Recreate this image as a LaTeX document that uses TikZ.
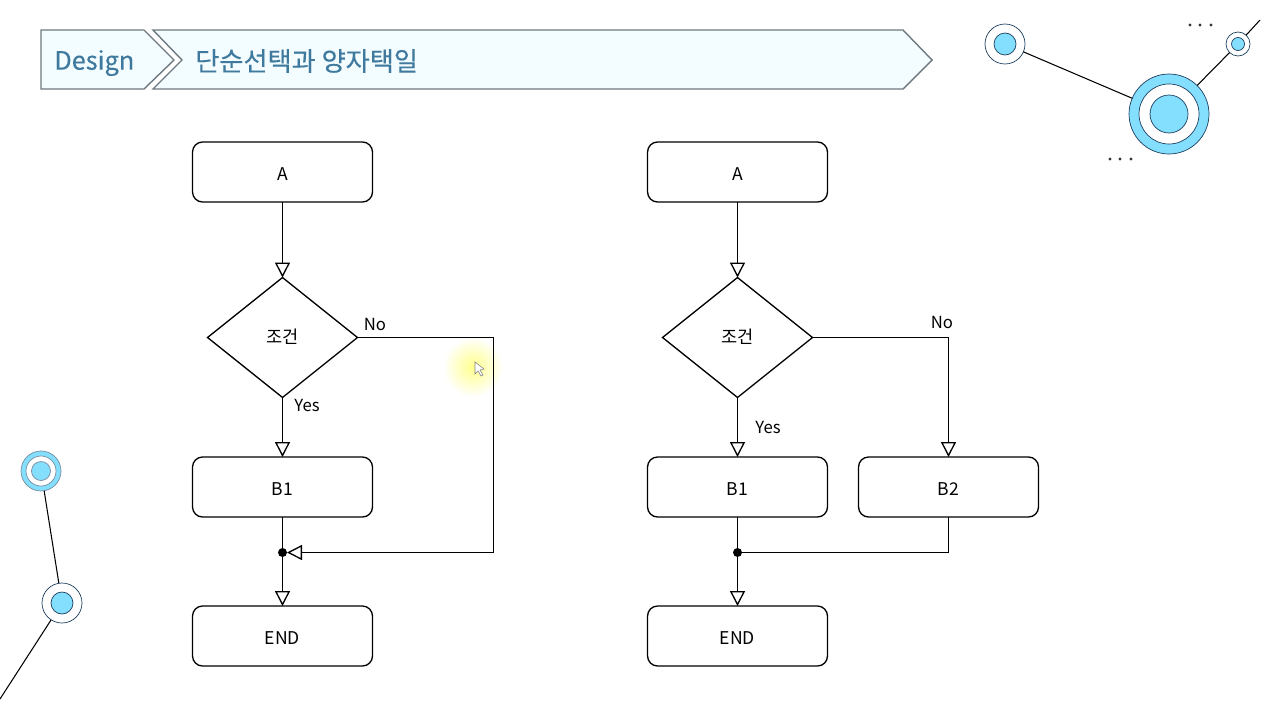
\documentclass[tikz,border=0pt]{standalone}
\usepackage{fontspec}
\setmainfont{Noto Sans CJK KR}
\newfontfamily\titlefont[FakeBold=0.25]{Noto Sans CJK KR}
\usepackage{xcolor}
\usetikzlibrary{arrows.meta,shapes.geometric}
\definecolor{ringblue}{HTML}{84DFFF}
\definecolor{ringline}{HTML}{1C3F5E}
\definecolor{titlefill}{HTML}{F3FCFE}
\definecolor{titleline}{HTML}{6F7A80}
\definecolor{titletext}{HTML}{3F7A9E}
\tikzset{
	box/.style={draw,line width=0.75pt,rounded corners=0.2cm,minimum width=3.6cm,minimum height=1.2cm,inner sep=0pt,outer sep=0pt,font=\fontsize{10}{12}\selectfont,text height=9.6pt,text depth=0pt},
	cond/.style={draw,line width=0.75pt,diamond,aspect=1.25,minimum width=3cm,minimum height=2.4cm,inner sep=0pt,outer sep=0pt,font=\fontsize{10}{12}\selectfont,text height=7pt,text depth=0pt},
	dot/.style={circle,fill=black,minimum size=0.18cm,inner sep=0pt,outer sep=0pt},
	flow/.style={line width=0.75pt,-{Triangle[open,fill=white,length=0.3cm,width=0.3cm]}},
	link/.style={line width=0.75pt},
	tag/.style={font=\fontsize{9.5}{11}\selectfont,inner sep=0pt},
	ring/.style={circle,draw=ringline,fill=#1,inner sep=0pt,outer sep=0pt},
	titleshape/.style={draw=titleline,line width=0.8pt,fill=titlefill},
	titletag/.style={text=titletext,inner sep=0pt,anchor=west}
}
\begin{document}
\begin{tikzpicture}[x=0.02cm,y=-0.02cm]
		\useasboundingbox (0,0) rectangle (1280,720);
		
		\draw[titleshape] (41,30) -- (144,30) -- (174,60) -- (144,89) -- (41,89) -- cycle;
		\draw[titleshape] (153,30) -- (903,30) -- (932,60) -- (903,89) -- (153,89) -- (182,60) -- cycle;
		\node[titletag,font=\titlefont\fontsize{14.4}{16}\selectfont] (design) at (54,63) {Design};
		\node[titletag,font=\titlefont\fontsize{14.9}{16}\selectfont] (title) at (195,61) {단순선택과 양자택일};
		
		\shade[inner color=yellow!45,outer color=white] (473,367) circle (30);
		\draw[gray,fill=white,line width=0.3pt] (475,362) -- (475,374) -- (478,371) -- (481,376) -- (483,375) -- (480,370) -- (484,369) -- cycle;
		
		\node[box] (a1) at (282.5,172) {A};
		\node[cond] (c1) at (282.5,337.5) {조건};
		\node[box] (b1) at (282.5,487) {B1};
		\node[dot] (j1) at (282.5,552.5) {};
		\node[box] (e1) at (282.5,636) {END};
		\coordinate (r1) at (493.5,337.5);
		\coordinate (r2) at (493.5,552.5);
		
		\draw[flow] (a1) -- (c1);
		\draw[flow] (c1) -- (b1);
		\draw[link] (b1) -- (j1);
		\draw[flow] (j1) -- (e1);
		\draw[flow] (c1.east) -- (r1) -- (r2) -- (j1);
		\node[tag] (no1) at (375,324) {No};
		\node[tag] (yes1) at (307,405) {Yes};
		
		\node[box] (a2) at (737.5,172) {A};
		\node[cond] (c2) at (737.5,337.5) {조건};
		\node[box] (b3) at (737.5,487) {B1};
		\node[box] (b4) at (948.5,487) {B2};
		\node[dot] (j2) at (737.5,552.5) {};
		\node[box] (e2) at (737.5,636) {END};
		
		\draw[flow] (a2) -- (c2);
		\draw[flow] (c2) -- (b3);
		\draw[flow] (c2.east) -| (b4);
		\draw[link] (b3) -- (j2);
		\draw[link] (b4) |- (j2);
		\draw[flow] (j2) -- (e2);
		\node[tag] (no2) at (942,322) {No};
		\node[tag] (yes2) at (768,427) {Yes};
		
		\node[ring=ringblue,minimum size=1.6cm] (big) at (1169,114) {};
		\node[ring=white,minimum size=1.2cm] at (big) {};
		\node[ring=ringblue,minimum size=0.76cm] at (big) {};
		\node[ring=white,minimum size=0.8cm] (left) at (1005,44) {};
		\node[ring=ringblue,minimum size=0.44cm] at (left) {};
		\node[ring=white,minimum size=0.48cm] (right) at (1238,44) {};
		\node[ring=ringblue,minimum size=0.26cm] at (right) {};
		\coordinate (edge1) at (1260,20);
		\draw[link,semithick] (left) -- (big);
		\draw[link,semithick] (right) -- (big);
		\draw[link,semithick] (right) -- (edge1);
		
		\fill[black!80] (1190,25) circle (1.7);
		\fill[black!80] (1200,25) circle (1.7);
		\fill[black!80] (1211,25) circle (1.7);
		\fill[black!80] (1110,159) circle (1.7);
		\fill[black!80] (1120,159) circle (1.7);
		\fill[black!80] (1131,159) circle (1.7);
		
		\node[ring=ringblue,draw=ringline!60,minimum size=0.8cm] (top) at (41,471) {};
		\node[ring=white,draw=ringline!60,minimum size=0.6cm] at (top) {};
		\node[ring=ringblue,draw=ringline!60,minimum size=0.38cm] at (top) {};
		\node[ring=white,minimum size=0.8cm] (low) at (62,603) {};
		\node[ring=ringblue,minimum size=0.44cm] at (low) {};
		\coordinate (edge2) at (0,699);
		\draw[link,semithick] (top) -- (low);
		\draw[link,semithick] (low) -- (edge2);
		\end{tikzpicture}
\end{document}
